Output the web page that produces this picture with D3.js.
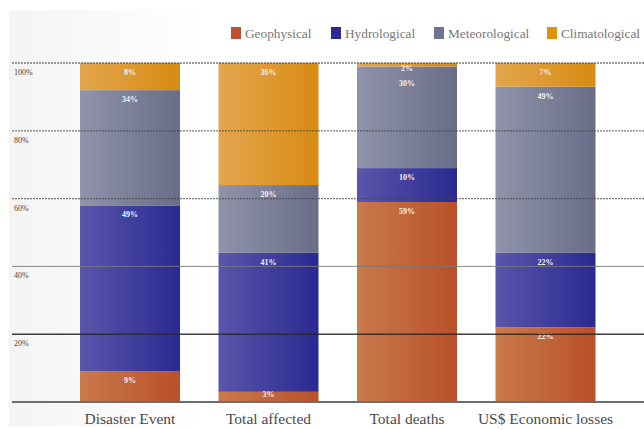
<!DOCTYPE html>
<html>
<head>
<meta charset="utf-8">
<script src="https://cdn.jsdelivr.net/npm/d3@7/dist/d3.min.js"></script>
<style>
  html, body { margin: 0; padding: 0; background: #fff; }
  svg { display: block; }
</style>
</head>
<body>
<svg id="chart" width="644" height="430"></svg>
<script>
// Share of disasters by type, per impact measure (percent)
const categories = ["Disaster Event", "Total affected", "Total deaths", "US$ Economic losses"];
const seriesNames = ["Geophysical", "Hydrological", "Meteorological", "Climatological"];
const geophysical    = [9, 3, 59, 22];
const hydrological   = [49, 41, 10, 22];
const meteorological = [34, 20, 30, 49];
const climatological = [8, 36, 2, 7];
const yTicks = [0, 20, 40, 60, 80, 100];
const yTickLabels = ["", "20%", "40%", "60%", "80%", "100%"];

const seriesValues = [geophysical, hydrological, meteorological, climatological];
const table = categories.map((c, i) => {
  const row = { category: c };
  seriesNames.forEach((s, k) => { row[s] = seriesValues[k][i]; });
  return row;
});

const svg = d3.select("#chart");
const W = 644, H = 430;
const plot = { left: 80, right: 595.5, top: 63, bottom: 402 };

// Colour ramps for each series: lighter on the left edge of a bar, deeper on the right
const ramps = {
  Geophysical:    ["#c97a4c", "#b9502a"],
  Hydrological:   ["#5a56ab", "#2a2990"],
  Meteorological: ["#9093aa", "#696d88"],
  Climatological: ["#e3a64f", "#d88b12"]
};
const swatch = {
  Geophysical: "#c0532e",
  Hydrological: "#2c2b95",
  Meteorological: "#6f7391",
  Climatological: "#de930f"
};

const defs = svg.append("defs");
seriesNames.forEach((s, k) => {
  const g = defs.append("linearGradient")
    .attr("id", "grad" + k)
    .attr("x1", 0).attr("x2", 1).attr("y1", 0).attr("y2", 0);
  g.append("stop").attr("offset", "0%").attr("stop-color", ramps[s][0]);
  g.append("stop").attr("offset", "100%").attr("stop-color", ramps[s][1]);
});
const bg = defs.append("linearGradient").attr("id", "bgGrad")
  .attr("x1", 0).attr("x2", 1).attr("y1", 0).attr("y2", 0);
bg.append("stop").attr("offset", "0%").attr("stop-color", "#f4f4f4");
bg.append("stop").attr("offset", "100%").attr("stop-color", "#ffffff");

defs.append("clipPath").attr("id", "plotClip")
  .append("rect")
  .attr("x", 0).attr("y", plot.top)
  .attr("width", W).attr("height", plot.bottom - plot.top + 2);

// soft grey panel behind the left side
svg.append("rect")
  .attr("x", 9).attr("y", 10).attr("width", 200).attr("height", 416)
  .attr("fill", "url(#bgGrad)");

const x = d3.scaleBand()
  .domain(categories)
  .range([plot.left, plot.right])
  .paddingInner(0.278)
  .paddingOuter(0);

const y = d3.scaleLinear().domain([0, 100]).range([plot.bottom, plot.top]);

const stack = d3.stack().keys(seriesNames);
const layers = stack(table);

const barsG = svg.append("g").attr("clip-path", "url(#plotClip)");

layers.forEach((layer, k) => {
  barsG.append("g")
    .selectAll("rect")
    .data(layer)
    .join("rect")
    .attr("x", d => x(d.data.category))
    .attr("width", x.bandwidth())
    .attr("y", d => y(d[1]))
    .attr("height", d => y(d[0]) - y(d[1]))
    .attr("fill", "url(#grad" + k + ")");
});

// Value labels near the top of each segment, kept apart and above the baseline
const labelsG = svg.append("g").attr("clip-path", "url(#plotClip)");
categories.forEach((c, i) => {
  let prevY = -Infinity;
  for (let k = layers.length - 1; k >= 0; k--) {
    const d = layers[k][i];
    let ly = y(d[1]) + 9;
    ly = Math.max(ly, prevY + 15);
    ly = Math.min(ly, plot.bottom - 8);
    prevY = ly;
    labelsG.append("text")
      .attr("x", x(c) + x.bandwidth() / 2)
      .attr("y", ly)
      .attr("dy", "0.35em")
      .attr("text-anchor", "middle")
      .attr("font-family", "'Liberation Serif', serif")
      .attr("font-size", 8)
      .attr("font-weight", "bold")
      .attr("fill", "#f4f2f6")
      .text(seriesValues[k][i] + "%");
  }
});

// Gridlines drawn across the bars
const gridStyle = v => {
  if (v === 0) return { stroke: "#6e6e6e", width: 2, dash: null, op: 1 };
  if (v === 20) return { stroke: "#2a2a2a", width: 1.4, dash: null, op: 0.9 };
  if (v === 40) return { stroke: "#7a7a7a", width: 1, dash: null, op: 0.9 };
  return { stroke: "#444", width: 1.3, dash: "2,1", op: 0.7 };
};
const grid = svg.append("g");
yTicks.forEach(v => {
  const s = gridStyle(v);
  grid.append("line")
    .attr("x1", 12).attr("x2", W)
    .attr("y1", y(v)).attr("y2", y(v))
    .attr("stroke", s.stroke)
    .attr("stroke-width", s.width)
    .attr("stroke-dasharray", s.dash)
    .attr("opacity", s.op);
});

// Y tick labels, sitting just under their gridlines
const yAxis = d3.axisLeft(y)
  .tickValues(yTicks)
  .tickFormat((v, i) => yTickLabels[i])
  .tickSize(0);
const yg = svg.append("g").attr("transform", "translate(14,0)").call(yAxis);
yg.select(".domain").remove();
yg.selectAll("text")
  .attr("x", 0)
  .attr("dy", "1.45em")
  .attr("text-anchor", "start")
  .attr("font-family", "'Liberation Serif', serif")
  .attr("font-size", 8)
  .style("fill", "#444");

// Category labels
const xAxis = d3.axisBottom(x).tickSize(0);
const xg = svg.append("g").attr("transform", `translate(0,${plot.bottom})`).call(xAxis);
xg.select(".domain").remove();
xg.selectAll("text")
  .attr("y", 17)
  .attr("dy", "0.35em")
  .attr("font-family", "'Liberation Serif', serif")
  .attr("font-size", 15.5)
  .style("fill", "#4a4a4a");

// Legend
const legendX = [231, 331, 434, 547];
const legend = svg.append("g");
seriesNames.forEach((s, k) => {
  legend.append("rect")
    .attr("x", legendX[k]).attr("y", 27)
    .attr("width", 10).attr("height", 12)
    .attr("fill", swatch[s]);
  legend.append("text")
    .attr("x", legendX[k] + 14).attr("y", 33)
    .attr("dy", "0.35em")
    .attr("font-family", "'Liberation Serif', serif")
    .attr("font-size", 13.3)
    .attr("fill", "#777")
    .text(s);
});
</script>
</body>
</html>
